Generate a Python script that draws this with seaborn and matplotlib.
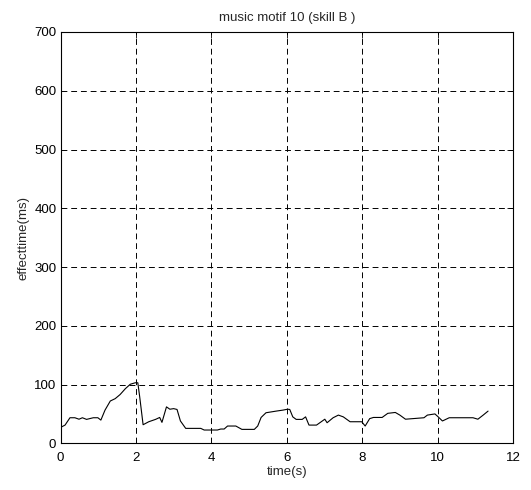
import matplotlib
matplotlib.use("Agg")
import matplotlib.pyplot as plt
import seaborn as sns
import pandas as pd

time_s = [0.0, 0.12, 0.25, 0.38, 0.49, 0.58, 0.69, 0.87, 0.99, 1.07, 1.18, 1.32, 1.45, 1.58, 1.72,
          1.85, 1.98, 2.05, 2.1, 2.19, 2.34, 2.52, 2.63, 2.69, 2.81, 2.9, 3.0, 3.09, 3.18, 3.32,
          3.72, 3.81, 4.16, 4.25, 4.34, 4.43, 4.65, 4.81, 5.14, 5.23, 5.32, 5.45, 5.72, 5.9, 6.02,
          6.08, 6.16, 6.25, 6.41, 6.5, 6.59, 6.79, 7.01, 7.07, 7.23, 7.37, 7.5, 7.68, 7.99, 8.08,
          8.2, 8.3, 8.53, 8.68, 8.88, 9.0, 9.15, 9.64, 9.73, 9.93, 10.0, 10.13, 10.31, 10.94,
          11.07, 11.21, 11.34]
effect_ms = [27, 31, 43.5, 43.5, 41, 43.5, 40.7, 43.5, 43.5, 39.5, 56.5, 72, 76, 83, 93,
             100.5, 103, 103, 79, 31.6, 36.7, 40.7, 44, 35.6, 62, 58, 59, 57.6, 38, 25.4,
             25.4, 22.6, 22.6, 24.3, 24.3, 29.4, 29.4, 23.7, 23.7, 29.4, 44, 52, 54.8, 56.5, 58,
             57.6, 45, 40.7, 40.7, 45, 31, 31, 41, 35, 43.5, 48, 45, 36.7, 36.7, 29.4,
             42, 44, 44, 51, 52.5, 48, 41, 43.5, 48, 50, 46, 38, 43.5, 43.5,
             41, 48, 54.8]

x_ticks = [0, 2, 4, 6, 8, 10, 12]
y_ticks = [0, 100, 200, 300, 400, 500, 600, 700]

sns.set_style("white")
plt.rcParams['font.family'] = ['Liberation Sans', 'DejaVu Sans']
plt.rcParams['font.size'] = 9.5

fig = plt.figure(figsize=(5.31, 4.90), dpi=100)
ax = fig.add_axes([0.114, 0.0953, 0.852, 0.8394])

df = pd.DataFrame({"t": time_s, "v": effect_ms})
sns.lineplot(data=df, x="t", y="v", ax=ax, color="black", linewidth=0.8, sort=False)

ax.set_xlim(0, 12)
ax.set_ylim(0, 700)
ax.set_xticks(x_ticks)
ax.set_yticks(y_ticks)
ax.grid(True, color="black", linestyle=(0, (6, 4)), linewidth=0.7)
ax.tick_params(direction="in", top=True, right=True, length=4, width=0.6,
               labelsize=9.5, colors="black")
ax.tick_params(axis="x", pad=6)
ax.tick_params(axis="y", pad=3)
for s in ax.spines.values():
    s.set_color("black")
    s.set_linewidth(0.8)
ax.set_xlabel("time(s)", fontsize=9.5, labelpad=2)
ax.set_ylabel("effecttime(ms)", fontsize=9.5, labelpad=3)
ax.set_title("music motif 10 (skill B )", fontsize=9.5, pad=8)

fig.savefig("out.png", dpi=100)
